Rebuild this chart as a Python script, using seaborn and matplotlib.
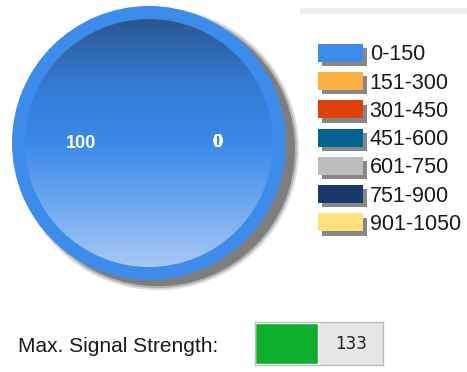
import matplotlib
matplotlib.use("Agg")
import matplotlib.pyplot as plt
import matplotlib.patheffects as pe
from matplotlib.patches import Circle, Rectangle
from matplotlib.colors import LinearSegmentedColormap
import numpy as np
import seaborn as sns

# ---- data ----
categories = ["0-150", "151-300", "301-450", "451-600", "601-750", "751-900", "901-1050"]
values = [100, 0, 0, 0, 0, 0, 0]
colors = ["#3d8cec", "#fcb040", "#e0400a", "#03628f", "#bdbdbd", "#1a3a6b", "#ffdf80"]
signal_label = "Max. Signal Strength:"
signal_value = 133
signal_max = 272

sns.set_theme(style="white")
plt.rcParams['font.family'] = ['Liberation Sans', 'DejaVu Sans']

W, H = 467, 372
fig = plt.figure(figsize=(W / 100, H / 100), dpi=100)
fig.patch.set_facecolor("white")

def px_axes(left, top, width, height):
    return fig.add_axes([left / W, (H - top - height) / H, width / W, height / H])

# ---- pie ----
cx, cy, R = 149, 143, 137
half = 150
ax = px_axes(cx - half, cy - half, 2 * half, 2 * half)
lim = half / R
ax.set_xlim(-lim, lim)
ax.set_ylim(-lim, lim)
ax.set_aspect("equal")
ax.axis("off")

# shadow
for r, a in [(1.03, 0.25), (1.015, 0.45), (1.0, 1.0)]:
    ax.add_patch(Circle((0.065, -0.045), r, facecolor="#7d7d7d", edgecolor="none", alpha=a, zorder=0))

wedges, texts = ax.pie(values, labels=[str(v) for v in values], colors=colors,
                       startangle=0, counterclock=True, radius=1.0,
                       labeldistance=0.5, wedgeprops=dict(linewidth=0),
                       textprops=dict(color="white", fontsize=13, fontweight="bold"))
for w in wedges:
    w.set_zorder(1)
for t in texts:
    t.set_ha("center")
    t.set_va("center")
    t.set_zorder(5)

inner = 0.905
cmap = LinearSegmentedColormap.from_list("g", ["#2b5793", "#3479cf", "#3b89e8", "#6ea8ef", "#a8c9f4"])
grad = np.linspace(0, 1, 256).reshape(-1, 1)
im = ax.imshow(grad, cmap=cmap, extent=(-inner, inner, -inner, inner), origin="upper",
               aspect="auto", zorder=2)
im.set_clip_path(Circle((0, 0), inner, transform=ax.transData))
ax.set_xlim(-lim, lim)
ax.set_ylim(-lim, lim)

# ---- legend ----
leg = fig.legend(wedges, categories, loc="upper left",
                 bbox_to_anchor=(318 / W, 1 - 44 / H), frameon=False,
                 fontsize=15.5, handlelength=2.1, handleheight=0.9,
                 handletextpad=0.3, labelspacing=0.32, borderpad=0, borderaxespad=0)
for p in leg.get_patches():
    p.set_path_effects([pe.SimplePatchShadow(offset=(3, -3), shadow_rgbFace="#555555", alpha=0.7),
                        pe.Normal()])
for t in leg.get_texts():
    t.set_color("#1a1a1a")

# top-right grey strip
fig.patches.append(Rectangle((300 / W, 1 - 14 / H), 167 / W, 6 / H, transform=fig.transFigure,
                             facecolor="#efefef", edgecolor="none"))

# ---- signal strength bar ----
fig.text(18 / W, 1 - 346 / H, signal_label, fontsize=15, color="#1a1a1a", va="center", ha="left")
axb = px_axes(255, 322, 128, 43)
sns.barplot(x=[signal_value], y=[""], ax=axb, color="#0db02b", width=0.96, saturation=1, orient="h")
axb.set_xlim(0, signal_max)
axb.set_ylim(0.5, -0.5)
axb.set_facecolor("#e6e6e6")
axb.set_xticks([])
axb.set_yticks([])
axb.set_xlabel("")
axb.set_ylabel("")
for s in axb.spines.values():
    s.set_color("#bcbcbc")
    s.set_linewidth(1)
axb.text(0.75, 0.48, str(signal_value), transform=axb.transAxes, ha="center", va="center",
         fontsize=12, color="#222222", family="DejaVu Sans")

fig.savefig("out.png", dpi=100)
